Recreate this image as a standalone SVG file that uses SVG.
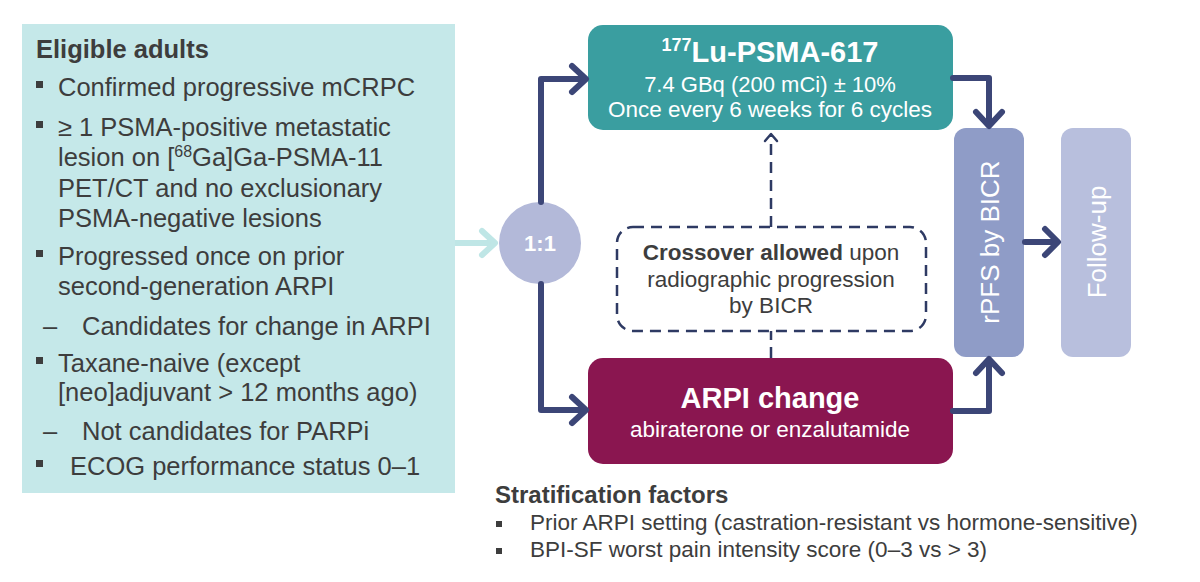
<svg xmlns="http://www.w3.org/2000/svg" width="1200" height="582" viewBox="0 0 1200 582">
<defs>
<style>
text{font-family:"Liberation Sans",Arial,sans-serif;}
.lt{font-size:25.5px;fill:#3d3d3d;}
.b{font-weight:bold;}
.w{fill:#ffffff;}
.nav{fill:none;stroke:#3c4677;stroke-width:6;stroke-linecap:round;stroke-linejoin:round;}
.dash{fill:none;stroke:#2e3a63;stroke-width:2.5;stroke-dasharray:11,7;}
.bul{fill:#3d3d3d;}
.st{font-size:22.5px;fill:#3d3d3d;}
.cx{font-size:22.5px;fill:#3d3d3d;}
</style>
</defs>
<rect width="1200" height="582" fill="#ffffff"/>
<g id="eligible">
<rect x="22" y="24" width="433" height="469" fill="#c5e8e9"/>
<text class="lt b" x="36" y="58">Eligible adults</text>
<rect class="bul" x="36" y="81" width="7" height="7"/>
<text class="lt" x="58" y="96">Confirmed progressive mCRPC</text>
<rect class="bul" x="36" y="121" width="7" height="7"/>
<text class="lt" x="58" y="136">≥ 1 PSMA-positive metastatic</text>
<text class="lt" x="58" y="166">lesion on [<tspan font-size="16" dy="-9">68</tspan><tspan dy="9">Ga]Ga-PSMA-11</tspan></text>
<text class="lt" x="58" y="197">PET/CT and no exclusionary</text>
<text class="lt" x="58" y="227">PSMA-negative lesions</text>
<rect class="bul" x="36" y="250" width="7" height="7"/>
<text class="lt" x="58" y="265">Progressed once on prior</text>
<text class="lt" x="58" y="295">second-generation ARPI</text>
<text class="lt" x="43" y="335">–</text>
<text class="lt" x="82" y="335">Candidates for change in ARPI</text>
<rect class="bul" x="36" y="357" width="7" height="7"/>
<text class="lt" x="58" y="372">Taxane-naive (except</text>
<text class="lt" x="58" y="401">[neo]adjuvant &gt; 12 months ago)</text>
<text class="lt" x="43" y="440">–</text>
<text class="lt" x="82" y="440">Not candidates for PARPi</text>
<rect class="bul" x="36" y="460" width="7" height="7"/>
<text class="lt" x="70" y="475">ECOG performance status 0–1</text>
</g>
<g id="randomise">
<circle cx="540" cy="243" r="41" fill="#b3b9d9"/>
<text class="b w" x="540" y="251" font-size="22" text-anchor="middle">1:1</text>
</g>
<g id="lu">
<rect x="588" y="25" width="365" height="105" rx="15" fill="#3a9ea0"/>
<text class="b w" x="770" y="62" font-size="29" text-anchor="middle"><tspan font-size="18" dy="-11">177</tspan><tspan dy="11">Lu-PSMA-617</tspan></text>
<text class="w" x="770" y="92" font-size="22" text-anchor="middle">7.4 GBq (200 mCi) ± 10%</text>
<text class="w" x="770" y="117" font-size="22.5" text-anchor="middle">Once every 6 weeks for 6 cycles</text>
</g>
<g id="crossover">
<rect class="dash" x="617" y="227" width="309" height="104" rx="16"/>
<text class="cx" x="771" y="260" text-anchor="middle"><tspan font-weight="bold">Crossover allowed</tspan> upon</text>
<text class="cx" x="771" y="287" text-anchor="middle">radiographic progression</text>
<text class="cx" x="771" y="313" text-anchor="middle">by BICR</text>
</g>
<g id="arpi">
<rect x="588" y="358" width="365" height="106" rx="15" fill="#8a1650"/>
<text class="b w" x="770" y="408" font-size="29" text-anchor="middle">ARPI change</text>
<text class="w" x="770" y="437" font-size="22.5" text-anchor="middle">abiraterone or enzalutamide</text>
</g>
<g id="rpfs">
<rect x="954" y="128" width="70" height="229" rx="12" fill="#8f9cc7"/>
<text class="w" transform="translate(999,242) rotate(-90)" font-size="26" text-anchor="middle">rPFS by BICR</text>
</g>
<g id="followup">
<rect x="1061" y="128" width="70" height="229" rx="12" fill="#b8bfdd"/>
<text class="w" transform="translate(1106,242) rotate(-90)" font-size="26" text-anchor="middle">Follow-up</text>
</g>
<g id="connectors">
<path d="M455 243 H494" fill="none" stroke="#bfe6e6" stroke-width="6"/>
<path d="M482 231 L495 243 L482 255" fill="none" stroke="#bfe6e6" stroke-width="6" stroke-linecap="round" stroke-linejoin="round"/>
<path class="nav" d="M541 202 V79 H584"/>
<path class="nav" d="M572 66 L586 79 L572 92"/>
<path class="nav" d="M541 284 V410 H584"/>
<path class="nav" d="M572 397 L586 410 L572 423"/>
<path class="nav" d="M953 78 H989 V124"/>
<path class="nav" d="M976 112 L989 126 L1002 112"/>
<path class="nav" d="M953 411 H989 V361"/>
<path class="nav" d="M976 373 L989 359 L1002 373"/>
<path class="nav" d="M1025 242 H1056"/>
<path class="nav" d="M1045 229 L1058 242 L1045 255"/>
<path class="dash" d="M771 358 V331"/>
<path class="dash" d="M771 227 V136"/>
<path d="M765 141 L771 134 L777 141" fill="none" stroke="#2e3a63" stroke-width="2.5" stroke-linecap="round" stroke-linejoin="round"/>
</g>
<g id="strat">
<text class="b" x="495" y="503" font-size="24" fill="#3d3d3d">Stratification factors</text>
<rect class="bul" x="496" y="521" width="6" height="6"/>
<text class="st" x="530" y="530">Prior ARPI setting (castration-resistant vs hormone-sensitive)</text>
<rect class="bul" x="496" y="548" width="6" height="6"/>
<text class="st" x="530" y="557">BPI-SF worst pain intensity score (0–3 vs &gt; 3)</text>
</g>
</svg>
